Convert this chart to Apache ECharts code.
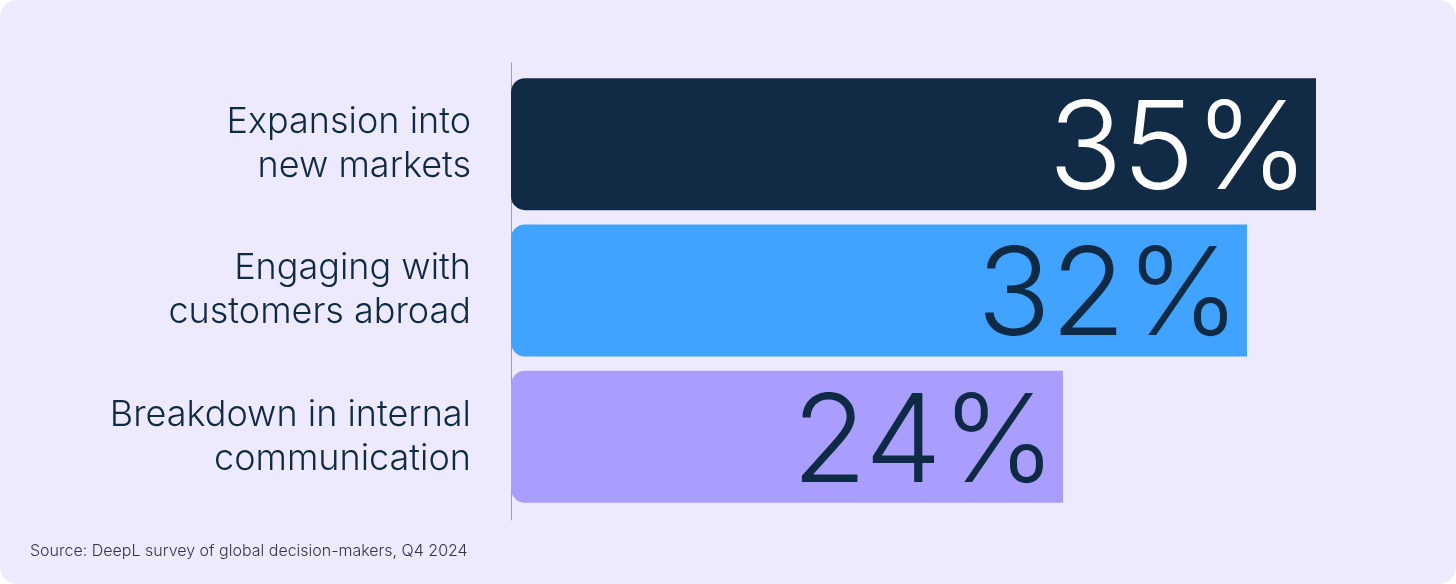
<!DOCTYPE html>
<html>
<head>
<meta charset="utf-8">
<title>Drivers</title>
<script src="https://cdn.jsdelivr.net/npm/echarts@6/dist/echarts.min.js"></script>
<style>
  html, body { margin: 0; padding: 0; background: #ffffff; }
  #chart { width: 1456px; height: 584px; background: #EEEAFE; border-radius: 18px; overflow: hidden; }
</style>
</head>
<body>
<div id="chart"></div>
<script>
const categories = ['Expansion into\nnew markets', 'Engaging with\ncustomers abroad', 'Breakdown in internal\ncommunication'];
const values = [35, 32, 24];
const barColors = ['#112B47', '#40A3FF', '#A99DFD'];
const labelColors = ['#FFFFFF', '#0F2A45', '#0F2A45'];
const sourceText = 'Source: DeepL survey of global decision-makers, Q4 2024';

const chart = echarts.init(document.getElementById('chart'));

chart.setOption({
  animation: false,
  grid: [
    { left: 511, top: 71, width: 920, height: 439 },
    // only carries the vertical axis line, which runs a bit past the bars
    { left: 511, top: 63, width: 920, height: 457 }
  ],
  xAxis: [
    { gridIndex: 0, type: 'value', min: 0, max: 40, show: false },
    { gridIndex: 1, type: 'value', min: 0, max: 40, show: false }
  ],
  yAxis: [
    {
      gridIndex: 0,
      type: 'category',
      inverse: true,
      data: categories,
      axisLine: { show: false },
      axisTick: { show: false },
      axisLabel: {
        margin: 40,
        color: '#0F2A45',
        fontFamily: 'Inter',
        fontWeight: 300,
        fontSize: 36,
        lineHeight: 44,
        align: 'right',
        padding: [4, 0, 0, 0]
      }
    },
    {
      gridIndex: 1,
      type: 'value',
      axisLine: { show: true, lineStyle: { color: '#9C9AAB', width: 1 } },
      axisTick: { show: false },
      axisLabel: { show: false },
      splitLine: { show: false }
    }
  ],
  series: [{
    type: 'bar',
    xAxisIndex: 0,
    yAxisIndex: 0,
    barWidth: 132,
    data: values.map((v, i) => ({
      value: v,
      itemStyle: { color: barColors[i], borderRadius: [14, 0, 0, 14] },
      label: { color: labelColors[i] }
    })),
    label: {
      show: true,
      position: 'insideRight',
      distance: 7,
      offset: [0, 8],
      formatter: '{c}%',
      fontFamily: 'Inter',
      fontWeight: 300,
      fontSize: 122
    }
  }],
  graphic: [{
    type: 'text',
    left: 30,
    top: 543,
    style: {
      text: sourceText,
      fill: '#33334A',
      font: '300 16px Inter'
    }
  }]
});
</script>
</body>
</html>
